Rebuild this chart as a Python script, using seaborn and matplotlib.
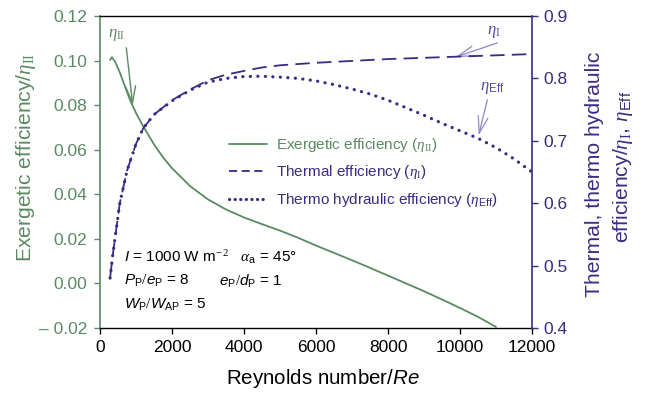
import numpy as np
import pandas as pd
import matplotlib
matplotlib.use("Agg")
import matplotlib.pyplot as plt
from matplotlib.lines import Line2D
import seaborn as sns

# ---------------- data ----------------
re_ex = [280, 330, 420, 560, 700, 830, 1000, 1200, 1500, 1750, 2000, 2500, 3000, 3500,
         4000, 4500, 5000, 5500, 6000, 6500, 7000, 7500, 8000, 8500, 9000, 9500, 10000,
         10500, 11000]
eta_ex = [0.1003, 0.1015, 0.0995, 0.0943, 0.0881, 0.0825, 0.0765, 0.0705, 0.0624, 0.0566,
          0.0517, 0.0437, 0.0377, 0.0332, 0.0296, 0.0266, 0.0237, 0.0205, 0.0170, 0.0137,
          0.0104, 0.0070, 0.0035, 0.0000, -0.0035, -0.0072, -0.0110, -0.0150, -0.0195]

re_th = [280, 350, 420, 550, 750, 1000, 1200, 1500, 2000, 2500, 3000, 3500, 4000, 4500,
         5000, 5500, 6000, 7000, 8000, 9000, 10000, 11000, 12000]
eta_th = [0.480, 0.515, 0.545, 0.600, 0.652, 0.695, 0.720, 0.742, 0.765, 0.782, 0.797,
          0.806, 0.812, 0.8175, 0.821, 0.823, 0.825, 0.828, 0.831, 0.833, 0.835, 0.837, 0.839]

re_eff = [280, 350, 420, 550, 750, 1000, 1200, 1500, 2000, 2500, 3000, 3500, 4000, 4500,
          5000, 5500, 6000, 6500, 7000, 7500, 8000, 8500, 9000, 9500, 10000, 10500, 11000,
          11500, 12000]
eta_eff = [0.480, 0.515, 0.545, 0.600, 0.652, 0.695, 0.720, 0.742, 0.764, 0.781, 0.794,
           0.800, 0.803, 0.8035, 0.802, 0.800, 0.796, 0.790, 0.783, 0.775, 0.765, 0.753,
           0.741, 0.728, 0.716, 0.704, 0.689, 0.671, 0.650]

x_ticks = [0, 2000, 4000, 6000, 8000, 10000, 12000]
x_ticklabels = ["0", "2000", "4000", "6000", "8000", "10000", "12000"]
left_ticks = [-0.02, 0.00, 0.02, 0.04, 0.06, 0.08, 0.10, 0.12]
left_ticklabels = ["\u2013 0.02", "0.00", "0.02", "0.04", "0.06", "0.08", "0.10", "0.12"]
right_ticks = [0.4, 0.5, 0.6, 0.7, 0.8, 0.9]
right_ticklabels = ["0.4", "0.5", "0.6", "0.7", "0.8", "0.9"]

legend_labels = [r"Exergetic efficiency ($\eta_{\mathrm{II}}$)",
                 r"Thermal efficiency ($\eta_{\mathrm{I}}$)",
                 r"Thermo hydraulic efficiency ($\eta_{\mathsf{Eff}}$)"]

# ---------------- style ----------------
sns.set_theme(style="ticks")
plt.rcParams["font.family"] = ["Liberation Sans", "DejaVu Sans"]
plt.rcParams["mathtext.fontset"] = "custom"
plt.rcParams["mathtext.rm"] = "Liberation Serif"
plt.rcParams["mathtext.it"] = "Liberation Serif:italic"
plt.rcParams["mathtext.sf"] = "Liberation Sans"
plt.rcParams["mathtext.cal"] = "Liberation Sans:italic"

GREEN = "#5a8a62"
PURPLE = "#3d2a82"
LPURPLE = "#9484cc"

df_ex = pd.DataFrame({"Re": re_ex, "eta": eta_ex})
df_th = pd.DataFrame({"Re": re_th, "eta": eta_th})
df_eff = pd.DataFrame({"Re": re_eff, "eta": eta_eff})

W, H = 646, 393
fig = plt.figure(figsize=(W / 100, H / 100), dpi=100)
ax = fig.add_axes([100 / W, 65 / H, 432 / W, 312 / H])
ax2 = ax.twinx()

sns.lineplot(data=df_ex, x="Re", y="eta", ax=ax, color=GREEN, lw=1.3)
sns.lineplot(data=df_th, x="Re", y="eta", ax=ax2, color=PURPLE, lw=1.3,
             linestyle=(0, (8, 4)))
sns.lineplot(data=df_eff, x="Re", y="eta", ax=ax2, color=PURPLE, lw=2.3,
             linestyle=(0, (0.05, 2.3)), dash_capstyle="round")

ax.set_xlim(0, 12000)
ax.set_ylim(-0.02, 0.12)
ax2.set_ylim(0.4, 0.9)
ax.set_xticks(x_ticks)
ax.set_xticklabels(x_ticklabels)
ax.set_yticks(left_ticks)
ax.set_yticklabels(left_ticklabels)
ax2.set_yticks(right_ticks)
ax2.set_yticklabels(right_ticklabels)
ax.set_xlabel("")
ax.set_ylabel("")
ax2.set_ylabel("")

ax.tick_params(axis="x", direction="out", length=4, width=1, colors="black",
               labelsize=12.5, pad=5)
ax.tick_params(axis="y", direction="out", length=4, width=1, colors=GREEN,
               labelsize=12.5, pad=5)
ax2.tick_params(axis="y", direction="out", length=4, width=1, colors=PURPLE,
                labelsize=12.5, pad=4)

for s in ["left", "right", "top", "bottom"]:
    ax2.spines[s].set_visible(False)
ax2.spines["right"].set_visible(True)
ax2.spines["right"].set_color(PURPLE)
ax2.spines["right"].set_linewidth(1.2)
ax.spines["right"].set_visible(False)
ax.spines["left"].set_color(GREEN)
ax.spines["left"].set_linewidth(1.2)
ax.spines["top"].set_color("black")
ax.spines["top"].set_linewidth(1.0)
ax.spines["bottom"].set_color("black")
ax.spines["bottom"].set_linewidth(1.0)

# axis labels
fig.text(26 / W, 1 - 157 / H, r"Exergetic efficiency/$\eta_{\mathrm{II}}$", color=GREEN,
         rotation=90, ha="center", va="center", fontsize=15.2)
fig.text(595 / W, 1 - 174 / H, "Thermal, thermo hydraulic",
         color=PURPLE, rotation=90, ha="center", va="center", fontsize=15.2)
fig.text(623 / W, 1 - 167 / H,
         r"efficiency/$\eta_{\mathrm{I}}$, $\eta_{\mathsf{Eff}}$",
         color=PURPLE, rotation=90, ha="center", va="center", fontsize=15.2)
fig.text(323 / W, 1 - 378 / H, r"Reynolds number/$\mathcal{Re}$", color="black",
         ha="center", va="center", fontsize=14.8)

# legend
handles = [Line2D([], [], color=GREEN, lw=1.3),
           Line2D([], [], color=PURPLE, lw=1.3, linestyle=(0, (4.5, 2.5))),
           Line2D([], [], color=PURPLE, lw=2.3, linestyle=(0, (0.05, 1.7)),
                  dash_capstyle="round")]
leg = ax2.legend(handles, legend_labels, loc="upper left",
                 bbox_to_anchor=(229 / W, 1 - 136 / H), bbox_transform=fig.transFigure,
                 frameon=False, fontsize=11, handlelength=2.5, handletextpad=0.6,
                 labelspacing=0.62, borderpad=0, borderaxespad=0)
for t, c in zip(leg.get_texts(), [GREEN, PURPLE, PURPLE]):
    t.set_color(c)

# parameter annotations
tx = ax.transAxes
def fx(px):
    return (px - 100) / 432
def fy(py):
    return (328 - py) / 312

ax.text(fx(124), fy(257), r"$\mathcal{I}$ = 1000 W m$^{-\,2}$   $\alpha_{\mathsf{a}}$ = 45°",
        transform=tx, fontsize=11, ha="left", va="center", color="black")
ax.text(fx(124), fy(281), r"$\mathcal{P}_{\mathsf{P}}/\mathcal{e}_{\mathsf{P}}$ = 8",
        transform=tx, fontsize=11, ha="left", va="center", color="black")
ax.text(fx(219), fy(281), r"$\mathcal{e}_{\mathsf{P}}/\mathcal{d}_{\mathsf{P}}$ = 1",
        transform=tx, fontsize=11, ha="left", va="center", color="black")
ax.text(fx(124), fy(305), r"$\mathcal{W}_{\mathsf{P}}/\mathcal{W}_{\mathsf{AP}}$ = 5",
        transform=tx, fontsize=11, ha="left", va="center", color="black")

# curve labels with arrows
ax.annotate("", xy=(fx(133), fy(108)), xytext=(fx(126), fy(45)),
            xycoords=tx, textcoords=tx,
            arrowprops=dict(arrowstyle="->,head_length=1.0,head_width=0.3",
                            color=GREEN, lw=1.0))
ax.text(fx(117), fy(35), r"$\eta_{\mathrm{II}}$", transform=tx, color=GREEN,
        fontsize=12, ha="center", va="center")

ax.annotate("", xy=(fx(453), fy(58)), xytext=(fx(500), fy(42)),
            xycoords=tx, textcoords=tx,
            arrowprops=dict(arrowstyle="->,head_length=1.0,head_width=0.3",
                            color=LPURPLE, lw=0.9))
ax.text(fx(494), fy(32), r"$\eta_{\mathrm{I}}$", transform=tx, color="#5a4aa8",
        fontsize=12, ha="center", va="center")

ax.annotate("", xy=(fx(478), fy(138)), xytext=(fx(488), fy(97)),
            xycoords=tx, textcoords=tx,
            arrowprops=dict(arrowstyle="->,head_length=1.0,head_width=0.3",
                            color=LPURPLE, lw=0.9))
ax.text(fx(492), fy(88), r"$\eta_{\mathsf{Eff}}$", transform=tx, color="#5a4aa8",
        fontsize=12, ha="center", va="center")

fig.savefig("out.png", dpi=100)
